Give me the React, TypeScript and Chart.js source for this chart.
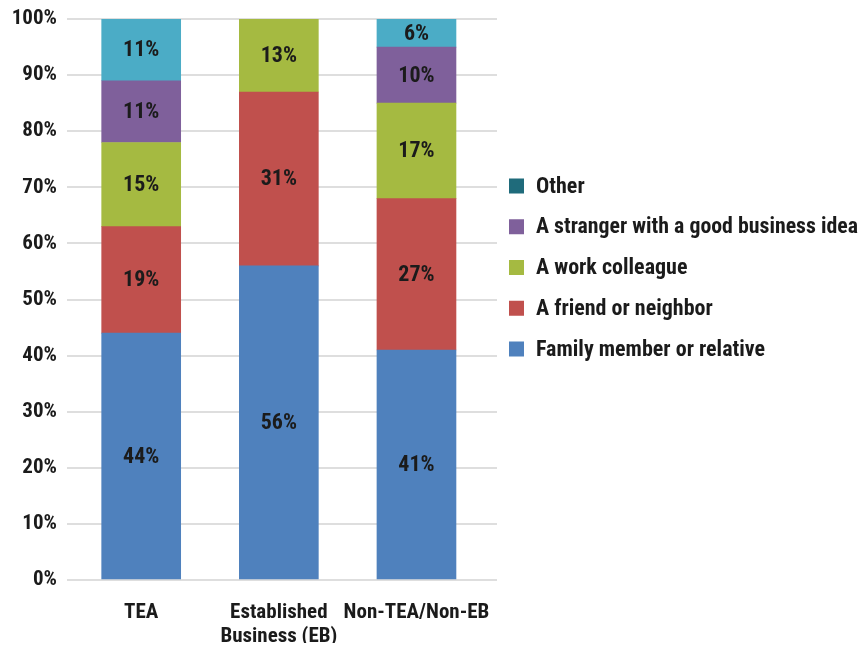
import { useEffect, useRef } from 'react';
import { Chart, registerables } from 'chart.js';

Chart.register(...registerables);

// Categories (multi-line labels are arrays of lines)
const categories: string[][] = [['TEA'], ['Established', 'Business (EB)'], ['Non-TEA/Non-EB']];

// Series, bottom to top of each stack
const seriesNames = [
  'Family member or relative',
  'A friend or neighbor',
  'A work colleague',
  'A stranger with a good business idea',
  'Other',
];
const familyMember = [44, 56, 41];
const friendOrNeighbor = [19, 31, 27];
const workColleague = [15, 13, 17];
const stranger = [11, null, 10];
const other = [11, null, 6];
const seriesValues = [familyMember, friendOrNeighbor, workColleague, stranger, other];

const barColors = ['#4F81BD', '#C0504D', '#A5BA41', '#7F609B', '#4BACC6'];
const legendColors = ['#4F81BD', '#C0504D', '#A5BA41', '#7F609B', '#1F6B7B'];

const yTickValues = [0, 10, 20, 30, 40, 50, 60, 70, 80, 90, 100];

const FONT = "'Roboto Condensed', 'Open Sans Condensed', sans-serif";
const TEXT = '#1b1b1b';

// Percentage labels centred in the visible part of each segment
const segmentLabels = {
  id: 'segmentLabels',
  afterDatasetsDraw(chart: any) {
    const { ctx, chartArea } = chart;
    ctx.save();
    ctx.font = `bold 22px ${FONT}`;
    ctx.fillStyle = TEXT;
    ctx.textAlign = 'center';
    ctx.textBaseline = 'middle';
    chart.data.datasets.forEach((ds: any, di: number) => {
      const meta = chart.getDatasetMeta(di);
      meta.data.forEach((el: any, i: number) => {
        const v = ds.data[i].y;
        if (v == null) return;
        const top = Math.max(Math.min(el.y, el.base), chartArea.top);
        const bottom = Math.min(Math.max(el.y, el.base), chartArea.bottom);
        ctx.fillText(`${v}%`, el.x, (top + bottom) / 2 + 1);
      });
    });
    ctx.restore();
  },
};

// Legend on the right, top entry = top of the stack
const sideLegend = {
  id: 'sideLegend',
  afterDraw(chart: any) {
    const { ctx, chartArea, width } = chart;
    const boxX = chartArea.right + 12;
    const textX = boxX + 27;
    const maxTextWidth = width - textX - 1;
    ctx.save();
    ctx.font = `bold 22px ${FONT}`;
    ctx.textAlign = 'left';
    ctx.textBaseline = 'middle';
    const order = seriesNames.map((_, k) => k).reverse();
    order.forEach((k, row) => {
      const cy = 178 + row * 40.75;
      ctx.fillStyle = legendColors[k];
      ctx.fillRect(boxX, cy - 7.5, 15, 15);
      ctx.fillStyle = TEXT;
      ctx.fillText(seriesNames[k], textX, cy + 1, maxTextWidth);
    });
    ctx.restore();
  },
};

export default function App() {
  const canvasRef = useRef<HTMLCanvasElement | null>(null);

  useEffect(() => {
    const canvas = canvasRef.current;
    if (!canvas) return;
    const chart = new Chart(canvas, {
      type: 'bar',
      data: {
        datasets: seriesNames.map((name, k) => ({
          label: name,
          data: seriesValues[k].map((v, i) => ({ x: i, y: v })),
          backgroundColor: barColors[k],
          borderWidth: 0,
          barThickness: 79,
        })),
      } as any,
      options: {
        animation: false,
        responsive: false,
        layout: { padding: { top: 11, right: 362, bottom: 0, left: 0 } },
        plugins: {
          legend: { display: false },
          tooltip: { enabled: false },
        },
        scales: {
          x: {
            type: 'linear',
            stacked: true,
            offset: false,
            min: -0.539,
            max: 2.585,
            grid: { display: false },
            border: { display: false },
            afterFit: (s: any) => {
              s.height = 63;
            },
            afterBuildTicks: (s: any) => {
              s.ticks = categories.map((_, i) => ({ value: i }));
            },
            ticks: {
              autoSkip: false,
              maxRotation: 0,
              padding: 13,
              color: TEXT,
              font: { family: FONT, size: 21, weight: 'bold', lineHeight: 1.12 },
              callback: (v: any) => categories[v] ?? '',
            },
          },
          y: {
            stacked: true,
            min: 0,
            max: 100,
            afterFit: (s: any) => {
              s.width = 59;
            },
            afterBuildTicks: (s: any) => {
              s.ticks = yTickValues.map((value) => ({ value }));
            },
            grid: { color: '#DEDEDE', lineWidth: 2, drawTicks: false },
            border: { display: false },
            ticks: {
              padding: 10,
              color: TEXT,
              font: { family: FONT, size: 21, weight: 'bold', lineHeight: 0.1 },
              callback: (v: any) => `${v}%`,
            },
          },
        },
      } as any,
      plugins: [segmentLabels, sideLegend],
    });
    return () => chart.destroy();
  }, []);

  return (
    <canvas
      ref={canvasRef}
      width={851}
      height={635}
      style={{ display: 'block', width: 851, height: 635 }}
    />
  );
}
